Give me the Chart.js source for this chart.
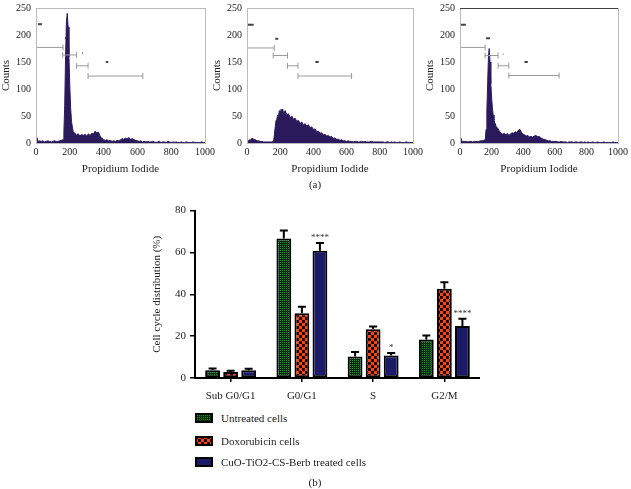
<!DOCTYPE html>
<html>
<head>
<meta charset="utf-8">
<script src="https://cdn.jsdelivr.net/npm/chart.js@4.4.0/dist/chart.umd.min.js"></script>
<style>
  body { margin: 0; width: 631px; height: 489px; background: #fff; position: relative; overflow: hidden;
         font-family: "Liberation Serif", serif; color: #222; }
  .box { position: absolute; }
  .cap { position: absolute; font-size: 11px; transform: translateX(-50%); }
  .leg { position: absolute; left: 195px; font-size: 11px; display: flex; align-items: center; height: 12px; }
  .leg canvas { margin-right: 8px; }
</style>
</head>
<body>
<div class="box" style="left:0;top:-3px;width:218px;height:179px"><canvas id="h1"></canvas></div>
<div class="box" style="left:211px;top:-3px;width:215px;height:179px"><canvas id="h2"></canvas></div>
<div class="box" style="left:424px;top:-3px;width:207px;height:179px"><canvas id="h3"></canvas></div>
<div class="cap" style="left:315px;top:178px">(a)</div>

<div class="box" style="left:140px;top:199.5px;width:340px;height:203px"><canvas id="bars"></canvas></div>
<div class="leg" style="top:412px"><canvas id="sw0" width="18" height="10"></canvas>Untreated cells</div>
<div class="leg" style="top:435px"><canvas id="sw1" width="18" height="10"></canvas>Doxorubicin cells</div>
<div class="leg" style="top:456px"><canvas id="sw2" width="18" height="10"></canvas>CuO-TiO2-CS-Berb treated cells</div>
<div class="cap" style="left:315px;top:476px">(b)</div>

<script>
// histogram channels (Propidium Iodide)
const channels = [0, 5, 10, 15, 20,
  30, 40, 50, 60, 70, 80, 90, 100, 110, 120, 130, 140, 150,
  160, 165, 170, 175, 180, 185, 190, 195, 200, 205, 210, 215, 220,
  230, 240, 250, 260, 270, 280, 290, 300, 310, 320, 330, 340, 350, 360, 370, 380, 390, 400,
  410, 420, 430, 440, 450, 460, 470, 480, 490, 500, 510, 520, 530, 540, 550, 560, 570, 580, 590, 600,
  610, 620, 630, 640, 650, 660, 670, 680, 690, 700, 710, 720, 730, 740, 750, 760, 770, 780, 790, 800,
  810, 820, 830, 840, 850, 860, 870, 880, 890, 900, 910, 920, 930, 940, 950, 960, 970, 980, 990, 1000];

const countsUntreated = [3, 10, 5, 3, 4,
  3, 4, 2, 3, 4, 3, 2, 3, 4, 3, 3, 4, 5,
  6, 20, 70, 160, 225, 240, 215, 160, 105, 65, 40, 30, 21,
  18, 15, 17, 13, 16, 14, 16, 13, 17, 14, 18, 17, 22, 19, 20, 12, 9, 6,
  5, 6, 4, 5, 3, 4, 3, 5, 4, 6, 8, 7, 9, 8, 10, 7, 8, 6, 5, 4,
  3, 4, 2, 3, 2, 3, 2, 2, 3, 2, 1, 2, 3, 1, 2, 2, 1, 3, 2, 1,
  2, 1, 2, 1, 1, 2, 1, 1, 2, 1, 1, 1, 2, 1, 1, 1, 1, 2, 1, 1];

const countsDoxorubicin = [2, 3, 4, 6, 5,
  9, 7, 6, 4, 4, 3, 3, 2, 2, 2, 2, 2, 2,
  3, 15, 30, 42, 45, 52, 50, 60, 54, 62, 56, 63, 55,
  60, 52, 54, 47, 50, 44, 46, 40, 42, 36, 39, 33, 36, 31, 34, 28, 30, 25,
  26, 21, 22, 18, 19, 15, 16, 13, 14, 11, 12, 9, 9, 7, 7, 5, 6, 4, 4, 3,
  4, 3, 3, 2, 3, 3, 2, 2, 3, 2, 3, 2, 2, 2, 3, 2, 2, 2, 2, 2,
  2, 2, 1, 2, 2, 1, 2, 1, 2, 1, 1, 2, 1, 1, 1, 2, 1, 1, 1, 1];

const countsTreated = [3, 9, 5, 3, 3,
  3, 3, 2, 3, 3, 2, 3, 3, 3, 3, 4, 4, 5,
  6, 25, 60, 110, 160, 175, 150, 110, 85, 65, 52, 42, 38,
  30, 27, 21, 19, 16, 18, 15, 18, 14, 17, 19, 18, 21, 19, 24, 25, 19, 16,
  15, 13, 14, 11, 12, 11, 13, 14, 12, 12, 10, 8, 7, 6, 5, 4, 4, 3, 3, 3,
  3, 2, 2, 3, 2, 2, 2, 1, 2, 2, 2, 1, 2, 2, 1, 2, 2, 1, 2, 1,
  2, 1, 1, 2, 1, 1, 2, 1, 1, 1, 2, 1, 1, 1, 1, 1, 2, 1, 1, 1];

// gate bars [from, to, level] and small region labels
const gatesUntreated = [[0, 160, 177], [158, 240, 163], [240, 308, 143], [308, 632, 124]];
const marksUntreated = [[12, 35, 220], [171, 178, 194], [272, 276, 166], [413, 428, 150]];
const gatesDoxorubicin = [[0, 164, 176], [158, 244, 162], [244, 307, 143], [307, 630, 124]];
const marksDoxorubicin = [[6, 40, 219], [170, 188, 193], [272, 275, 165], [412, 432, 150]];
const gatesTreated = [[0, 159, 177], [159, 241, 162], [241, 309, 143], [309, 627, 125]];
const marksTreated = [[4, 37, 219], [165, 190, 194], [271, 274, 165], [408, 429, 150]];

// cell cycle bar chart
const phases = ["Sub G0/G1", "G0/G1", "S", "G2/M"];
const seriesNames = ["Untreated cells", "Doxorubicin cells", "CuO-TiO2-CS-Berb treated cells"];
const untreated = [3.7, 66.7, 10.3, 18.4];
const untreatedErr = [0.8, 3.8, 2.1, 1.9];
const doxorubicin = [2.9, 31.0, 23.3, 42.6];
const doxorubicinErr = [0.6, 3.1, 1.3, 3.1];
const treated = [3.7, 60.8, 10.8, 24.8];
const treatedErr = [0.7, 3.7, 1.1, 3.5];
const treatedSig = ["", "****", "*", "****"];

const serif = "'Liberation Serif', serif";
const histColor = "#2a1a5c";

const frame = {
  id: "frame",
  afterDraw(chart, args, opts) {
    const { ctx, chartArea: a } = chart;
    ctx.save();
    ctx.strokeStyle = "#bbb";
    ctx.lineWidth = 1;
    ctx.strokeRect(a.left + 0.5, a.top + 0.5, a.right - a.left, a.bottom - a.top);
    if (opts.darkTop) {
      ctx.strokeStyle = "#444";
      ctx.beginPath();
      ctx.moveTo(a.left, a.top + 0.5);
      ctx.lineTo(a.right, a.top + 0.5);
      ctx.stroke();
    }
    ctx.restore();
  }
};

const makeHist = (id, counts, gates, marks, darkTop) => {
  const datasets = [{
    data: channels.map((c, i) => ({ x: c, y: counts[i] })),
    backgroundColor: histColor,
    borderColor: histColor,
    borderWidth: 1,
    pointRadius: 0,
    fill: "origin",
    order: 2
  }];
  gates.forEach((g) => {
    datasets.push({
      data: [{ x: g[0], y: g[2] }, { x: g[1], y: g[2] }],
      borderColor: "#9a9a9a",
      borderWidth: 1,
      pointStyle: "line",
      rotation: 90,
      pointRadius: 3,
      pointBorderColor: "#9a9a9a",
      pointBorderWidth: 1,
      fill: false,
      order: 0
    });
  });
  marks.forEach((m) => {
    datasets.push({
      data: [{ x: m[0], y: m[2] }, { x: m[1], y: m[2] }],
      borderColor: "#444",
      borderWidth: 2,
      pointRadius: 0,
      fill: false,
      order: 0
    });
  });
  new Chart(document.getElementById(id), {
    type: "line",
    data: { datasets },
    plugins: [frame],
    options: {
      responsive: true,
      maintainAspectRatio: false,
      animation: false,
      layout: { padding: 0 },
      plugins: { legend: { display: false }, tooltip: { enabled: false }, frame: { darkTop } },
      scales: {
        x: {
          type: "linear", min: 0, max: 1000,
          afterFit: (s) => { s.height = 33; },
          grid: { display: false, drawTicks: false },
          border: { color: "#bbb" },
          ticks: { stepSize: 200, padding: 3, color: "#222", font: { family: serif, size: 10 }, maxRotation: 0,
                   callback: (v) => String(v) },
          title: { display: true, text: "Propidium Iodide", color: "#222", font: { family: serif, size: 11 }, padding: { bottom: 0 } }
        },
        y: {
          min: 0, max: 250,
          afterFit: (s) => { s.width = 36; },
          grid: { display: false, drawTicks: false },
          border: { color: "#bbb" },
          ticks: { stepSize: 50, padding: 5, color: "#222", font: { family: serif, size: 10 } },
          title: { display: true, text: "Counts", color: "#222", font: { family: serif, size: 11 }, padding: { top: 0 } }
        }
      }
    }
  });
};

makeHist("h1", countsUntreated, gatesUntreated, marksUntreated, false);
makeHist("h2", countsDoxorubicin, gatesDoxorubicin, marksDoxorubicin, false);
makeHist("h3", countsTreated, gatesTreated, marksTreated, true);

// fill patterns
const greenTile = () => {
  const c = document.createElement("canvas");
  c.width = 2; c.height = 2;
  const g = c.getContext("2d");
  g.fillStyle = "#072c0e"; g.fillRect(0, 0, 2, 2);
  g.fillStyle = "#1f8c2c"; g.fillRect(0, 0, 1, 1);
  return c;
};
const redTile = () => {
  const c = document.createElement("canvas");
  c.width = 6; c.height = 6;
  const g = c.getContext("2d");
  g.fillStyle = "#ff4412"; g.fillRect(0, 0, 6, 6);
  g.fillStyle = "#1a0400"; g.fillRect(0, 0, 3, 3); g.fillRect(3, 3, 3, 3);
  return c;
};
const barCtx = document.getElementById("bars").getContext("2d");
const fills = [
  barCtx.createPattern(greenTile(), "repeat"),
  barCtx.createPattern(redTile(), "repeat"),
  "#1b1b68"
];

const errorBars = {
  id: "errorBars",
  afterDatasetsDraw(chart) {
    const ctx = chart.ctx;
    const y = chart.scales.y;
    chart.data.datasets.forEach((ds, i) => {
      chart.getDatasetMeta(i).data.forEach((bar, j) => {
        const top = y.getPixelForValue(ds.data[j] + ds.errors[j]);
        ctx.save();
        ctx.strokeStyle = "#000";
        ctx.lineWidth = 2;
        ctx.beginPath();
        ctx.moveTo(bar.x, bar.y);
        ctx.lineTo(bar.x, top);
        ctx.moveTo(bar.x - 4, top);
        ctx.lineTo(bar.x + 4, top);
        ctx.stroke();
        if (ds.sig && ds.sig[j]) {
          ctx.fillStyle = "#333";
          ctx.font = "9px " + serif;
          ctx.textAlign = "center";
          ctx.textBaseline = "bottom";
          ctx.fillText(ds.sig[j], bar.x, top - 1);
        }
        ctx.restore();
      });
    });
  }
};

new Chart(barCtx, {
  type: "bar",
  data: {
    labels: phases,
    datasets: [
      { label: seriesNames[0], data: untreated, errors: untreatedErr },
      { label: seriesNames[1], data: doxorubicin, errors: doxorubicinErr },
      { label: seriesNames[2], data: treated, errors: treatedErr, sig: treatedSig }
    ].map((d, i) => Object.assign(d, {
      backgroundColor: fills[i],
      borderColor: "#000",
      borderWidth: 2,
      borderSkipped: false,
      categoryPercentage: 0.76,
      barPercentage: 0.82
    }))
  },
  plugins: [errorBars],
  options: {
    responsive: true,
    maintainAspectRatio: false,
    animation: false,
    layout: { padding: 0 },
    plugins: { legend: { display: false }, tooltip: { enabled: false } },
    scales: {
      x: {
        afterFit: (s) => { s.height = 25; },
        grid: { drawOnChartArea: false, offset: false, tickLength: 4, color: "#000", lineWidth: 1.5 },
        border: { color: "#000", width: 2 },
        ticks: { padding: 8, color: "#222", font: { family: serif, size: 11 } }
      },
      y: {
        min: 0, max: 80,
        afterFit: (s) => { s.width = 55; },
        grid: { drawOnChartArea: false, tickLength: 5, color: "#000", lineWidth: 1.5 },
        border: { color: "#000", width: 2 },
        ticks: { stepSize: 20, padding: 4, color: "#222", font: { family: serif, size: 11 } },
        title: { display: true, text: "Cell cycle distribution (%)", color: "#222", font: { family: serif, size: 11 }, padding: { top: 11 } }
      }
    }
  }
});

// legend swatches
fills.forEach((f, i) => {
  const g = document.getElementById("sw" + i).getContext("2d");
  g.fillStyle = f;
  g.fillRect(0, 0, 18, 10);
  g.strokeStyle = "#000";
  g.lineWidth = 2;
  g.strokeRect(1, 1, 16, 8);
});
</script>
</body>
</html>
